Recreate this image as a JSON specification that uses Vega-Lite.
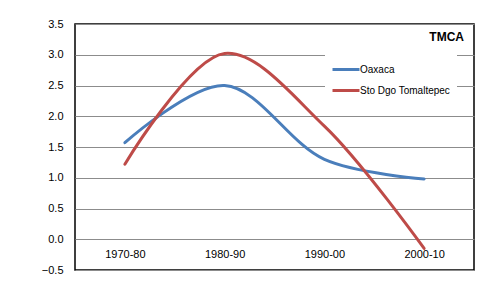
{
  "$schema": "https://vega.github.io/schema/vega-lite/v6.json",
  "autosize": {"type": "none"},
  "width": 399,
  "height": 246,
  "padding": {"left": 75, "top": 24, "right": 6, "bottom": 20},
  "background": "white",
  "title": {"text": "TMCA", "anchor": "end", "orient": "top", "offset": -26, "dx": -10, "font": "Liberation Sans", "fontSize": 12, "fontWeight": "bold", "color": "#000", "baseline": "top"},
  "data": {"values": [
    {"periodo": "1970-80", "serie": "Oaxaca", "valor": 1.57},
    {"periodo": "1980-90", "serie": "Oaxaca", "valor": 2.50},
    {"periodo": "1990-00", "serie": "Oaxaca", "valor": 1.30},
    {"periodo": "2000-10", "serie": "Oaxaca", "valor": 0.98},
    {"periodo": "1970-80", "serie": "Sto Dgo Tomaltepec", "valor": 1.22},
    {"periodo": "1980-90", "serie": "Sto Dgo Tomaltepec", "valor": 3.02},
    {"periodo": "1990-00", "serie": "Sto Dgo Tomaltepec", "valor": 1.84},
    {"periodo": "2000-10", "serie": "Sto Dgo Tomaltepec", "valor": -0.15}
  ]},
  "mark": {"type": "line", "interpolate": "catmull-rom", "strokeWidth": 3, "strokeCap": "round"},
  "encoding": {
    "x": {"field": "periodo", "type": "ordinal", "sort": null,
      "scale": {"type": "point", "padding": 0.5},
      "axis": {"title": null, "orient": "bottom", "offset": -31, "domain": false, "ticks": false, "grid": false, "labelAngle": 0, "labelPadding": 9, "labelFont": "Liberation Sans", "labelFontSize": 11, "labelColor": "#000"}},
    "y": {"field": "valor", "type": "quantitative",
      "scale": {"domain": [-0.5, 3.5], "nice": false, "zero": false},
      "axis": {"title": null, "values": [-0.5, 0, 0.5, 1, 1.5, 2, 2.5, 3, 3.5], "format": ".1f", "domain": false, "ticks": false, "labelPadding": 12, "grid": true, "gridColor": "#8c8c8c", "gridWidth": 1, "labelFont": "Liberation Sans", "labelFontSize": 11, "labelColor": "#000"}},
    "color": {"field": "serie", "type": "nominal",
      "scale": {"domain": ["Oaxaca", "Sto Dgo Tomaltepec"], "range": ["#4a7ebb", "#be4b48"]},
      "legend": {"title": null, "orient": "none", "legendX": 250, "legendY": 24.5, "symbolType": "stroke", "symbolSize": 729, "symbolStrokeWidth": 3, "labelFont": "Liberation Sans", "labelFontSize": 10, "labelColor": "#000", "labelOffset": -1, "rowPadding": -8, "fillColor": "white", "padding": 6}}
  },
  "config": {"view": {"stroke": "#000", "strokeWidth": 1.5}}
}
